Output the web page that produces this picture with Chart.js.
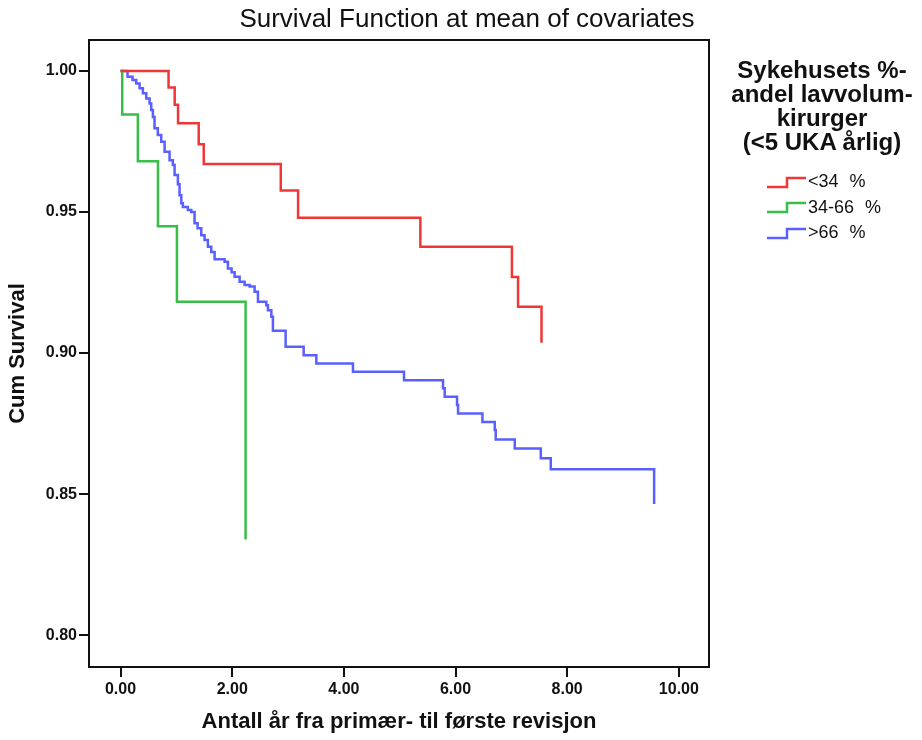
<!DOCTYPE html>
<html><head><meta charset="utf-8">
<script src="https://cdn.jsdelivr.net/npm/chart.js@4.4.0/dist/chart.umd.min.js"></script>
<style>
html,body{margin:0;padding:0;background:#fff;}
#wrap{position:relative;width:922px;height:740px;overflow:hidden;}
#c{position:absolute;left:0;top:0;}
#title{position:absolute;left:0;top:3px;width:934px;text-align:center;font:26px 'Liberation Sans',Arial,sans-serif;color:#111;white-space:nowrap;}
#legend{position:absolute;left:721px;top:58px;width:202px;}
#legtitle{text-align:center;font:bold 24px/24px 'Liberation Sans',Arial,sans-serif;color:#111;}
#items{position:absolute;left:46px;top:111px;}
.item{display:flex;align-items:center;height:25.5px;font:18px 'Liberation Sans Narrow','Liberation Sans',Arial,sans-serif;color:#111;word-spacing:6px;white-space:nowrap;}
.item svg{margin-right:0px;}
</style></head>
<body>
<div id="wrap">
<canvas id="c" width="922" height="740"></canvas>
<div id="title"></div>
<div id="legend"><div id="legtitle"></div><div id="items"></div></div>
</div>
<script>
// ---- data ----
const chartTitle = "Survival Function at mean of covariates";
const xAxisTitle = "Antall år fra primær- til første revisjon";
const yAxisTitle = "Cum Survival";
const legendTitle = ["Sykehusets %-", "andel lavvolum-", "kirurger", "(<5 UKA årlig)"];
const groupLabels = ["<34 %", "34-66 %", ">66 %"];
const groupColors = ["rgb(240,55,55)", "rgb(55,190,70)", "rgb(90,95,255)"];
const xTickValues = [0, 2, 4, 6, 8, 10];
const yTickValues = [0.80, 0.85, 0.90, 0.95, 1.00];

const lowTime = [0, 0.86, 0.97, 1.03, 1.40, 1.49, 2.87, 3.18, 5.37, 7.01, 7.12, 7.54];
const lowSurv = [1.0, 0.9942, 0.9880, 0.9815, 0.9740, 0.9670, 0.9576, 0.9480, 0.9377, 0.9270, 0.9164, 0.9037];

const midTime = [0, 0.03, 0.31, 0.67, 1.01, 2.24];
const midSurv = [1.0, 0.9846, 0.9680, 0.9450, 0.9182, 0.8339];

const highTime = [0, 0.125, 0.215, 0.281, 0.341, 0.400, 0.461, 0.520, 0.550, 0.579, 0.609, 0.668, 0.729, 0.789, 0.878, 0.937, 0.968, 1.027, 1.057, 1.088, 1.116, 1.206, 1.267, 1.326, 1.380, 1.446, 1.505, 1.565, 1.625, 1.685, 1.864, 1.923, 1.989, 2.043, 2.133, 2.222, 2.312, 2.401, 2.461, 2.611, 2.640, 2.701, 2.729, 2.957, 3.280, 3.507, 4.163, 5.077, 5.776, 5.806, 6.027, 6.045, 6.482, 6.703, 6.720, 7.061, 7.527, 7.706, 9.557];
const highSurv = [1.0, 0.9980, 0.9968, 0.9956, 0.9939, 0.9921, 0.9903, 0.9885, 0.9862, 0.9837, 0.9797, 0.9773, 0.9749, 0.9714, 0.9684, 0.9667, 0.9631, 0.9599, 0.9560, 0.9531, 0.9518, 0.9507, 0.9500, 0.9460, 0.9443, 0.9418, 0.9401, 0.9377, 0.9358, 0.9333, 0.9324, 0.9300, 0.9287, 0.9271, 0.9253, 0.9241, 0.9236, 0.9217, 0.9182, 0.9170, 0.9152, 0.9129, 0.9079, 0.9022, 0.8992, 0.8963, 0.8934, 0.8904, 0.8875, 0.8845, 0.8816, 0.8786, 0.8756, 0.8727, 0.8694, 0.8662, 0.8627, 0.8588, 0.8465];

// ---- build ----
document.getElementById('title').textContent = chartTitle;
document.getElementById('legtitle').innerHTML = legendTitle.map(s => s.replace(/&/g,'&amp;').replace(/</g,'&lt;')).join('<br>');
const items = document.getElementById('items');
groupLabels.forEach((lab, i) => {
  const d = document.createElement('div');
  d.className = 'item';
  d.innerHTML = '<svg width="41" height="14"><polyline points="0,12 20,12 20,3 39,3" fill="none" stroke="' + groupColors[i] + '" stroke-width="2.5"/></svg>';
  const s = document.createElement('span');
  s.textContent = lab;
  d.appendChild(s);
  items.appendChild(d);
});

const series = [[lowTime, lowSurv], [midTime, midSurv], [highTime, highSurv]];
const datasets = series.map((s, i) => ({
  label: groupLabels[i],
  data: s[0].map((t, k) => ({x: t, y: s[1][k]})),
  borderColor: groupColors[i],
  borderWidth: 2.5,
  pointRadius: 0,
  stepped: 'before',
  fill: false,
  tension: 0
}));

const framePlugin = {
  id: 'frame',
  afterDatasetsDraw(chart) {
    const {ctx, chartArea: a} = chart;
    ctx.save();
    ctx.strokeStyle = '#111';
    ctx.lineWidth = 2;
    ctx.strokeRect(a.left, a.top, a.right - a.left, a.bottom - a.top);
    ctx.restore();
  }
};

const tickFont = {family: "'Liberation Sans', Arial", size: 16, weight: 'bold'};
const titleFont = {family: "'Liberation Sans', Arial", size: 22, weight: 'bold'};

new Chart(document.getElementById('c'), {
  type: 'line',
  data: {datasets},
  plugins: [framePlugin],
  options: {
    responsive: false,
    animation: false,
    layout: {padding: {top: 40, right: 213, bottom: 0, left: 0}},
    plugins: {legend: {display: false}, title: {display: false}, tooltip: {enabled: false}},
    scales: {
      x: {
        type: 'linear', min: -0.565, max: 10.54,
        afterBuildTicks: s => { s.ticks = xTickValues.map(v => ({value: v})); },
        afterFit: s => { s.height = 73; },
        grid: {drawOnChartArea: false, color: '#111', lineWidth: 2, tickLength: 10},
        border: {display: false},
        ticks: {color: '#111', font: tickFont, padding: 3, maxRotation: 0, callback: v => Number(v).toFixed(2)},
        title: {display: true, text: xAxisTitle, color: '#111', font: titleFont, padding: {top: 0, bottom: 5}}
      },
      y: {
        type: 'linear', min: 0.7887, max: 1.011,
        afterBuildTicks: s => { s.ticks = yTickValues.map(v => ({value: v})); },
        afterFit: s => { s.width = 89; },
        grid: {drawOnChartArea: false, color: '#111', lineWidth: 2, tickLength: 10},
        border: {display: false},
        ticks: {color: '#111', font: tickFont, padding: 2, callback: v => Number(v).toFixed(2)},
        title: {display: true, text: yAxisTitle, color: '#111', font: titleFont, padding: {top: 5, bottom: 0}}
      }
    }
  }
});
</script>
</body></html>
